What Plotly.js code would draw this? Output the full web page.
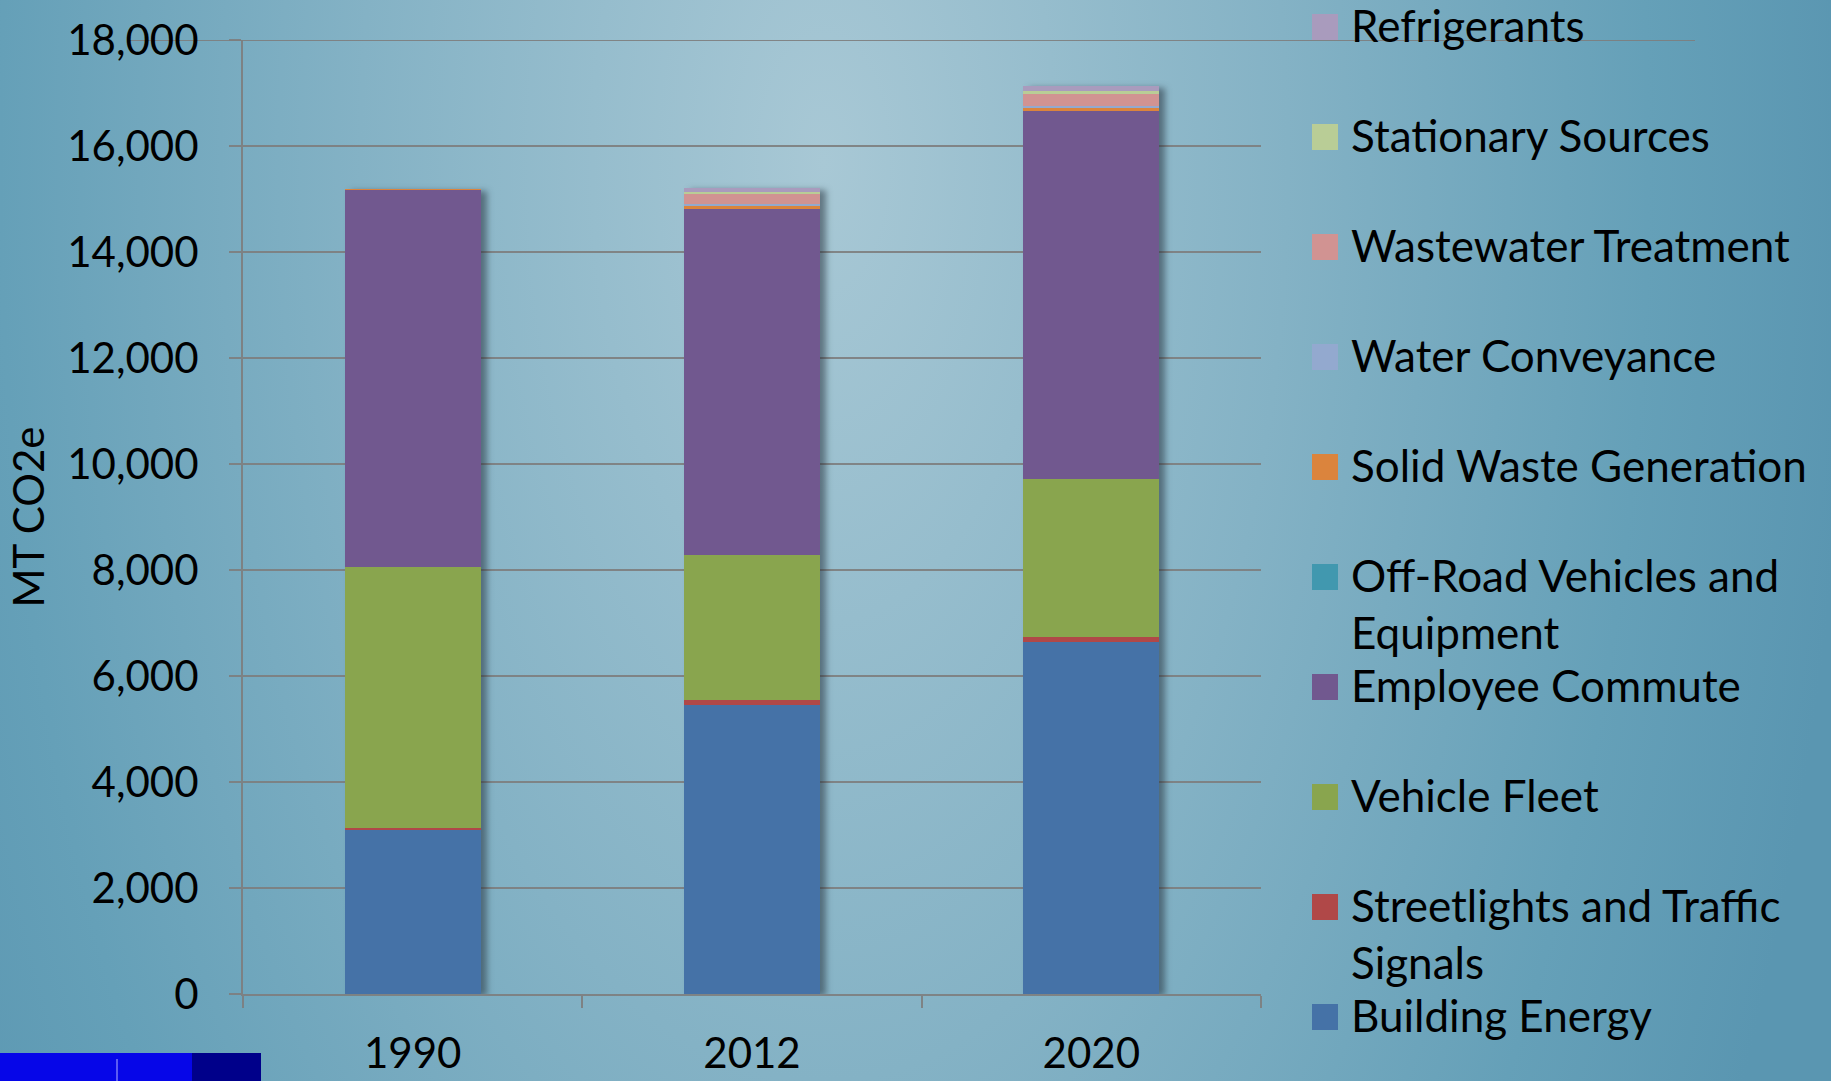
<!DOCTYPE html>
<html>
<head>
<meta charset="utf-8">
<script src="https://cdn.plot.ly/plotly-3.0.1.min.js"></script>
<style>
  html, body { margin: 0; padding: 0; width: 1831px; height: 1081px; overflow: hidden; }
  body {
    background: radial-gradient(ellipse 1030px 2042px at 824px 162px, #a8c8d5 0%, #84b2c5 45%, #65a0b8 80%, #5a96b1 100%);
  }
  #chart { width: 1831px; height: 1081px; }
  .barlayer { filter: drop-shadow(6px 2px 3px rgba(30, 40, 50, 0.5)); }
</style>
</head>
<body>
<div id="chart"></div>
<script>
// ---- data ----
const years = ["1990", "2012", "2020"];

const buildingEnergy       = [3100, 5450, 6640];
const streetlightsTraffic  = [40, 95, 100];
const vehicleFleet         = [4910, 2740, 2975];
const employeeCommute      = [7115, 6530, 6950];
const offRoadVehicles      = [0, 0, 0];
const solidWaste           = [25, 55, 55];
const waterConveyance      = [0, 30, 38];
const wastewaterTreatment  = [0, 190, 220];
const stationarySources    = [0, 50, 57];
const refrigerants         = [0, 75, 95];

const seriesNames = [
  "Building Energy",
  "Streetlights and Traffic<br>Signals",
  "Vehicle Fleet",
  "Employee Commute",
  "Off-Road Vehicles and<br>Equipment",
  "Solid Waste Generation",
  "Water Conveyance",
  "Wastewater Treatment",
  "Stationary Sources",
  "Refrigerants"
];
const seriesValues = [
  buildingEnergy, streetlightsTraffic, vehicleFleet, employeeCommute, offRoadVehicles,
  solidWaste, waterConveyance, wastewaterTreatment, stationarySources, refrigerants
];
const seriesColors = [
  "#4572a7", "#b04848", "#89a54e", "#71588f", "#4198af",
  "#db843d", "#93a9cf", "#d19392", "#b9cd96", "#a99bbd"
];

const yTickVals = [0, 2000, 4000, 6000, 8000, 10000, 12000, 14000, 16000, 18000];
const yTickText = ["0", "2,000", "4,000", "6,000", "8,000", "10,000", "12,000", "14,000", "16,000", "18,000"];

// ---- traces ----
const traces = seriesNames.map((name, i) => ({
  type: "bar",
  x: years,
  y: seriesValues[i],
  name: name,
  showlegend: false,
  marker: { color: seriesColors[i], line: { width: 0 } },
  hoverinfo: "skip"
}));

const FONT = "Lato, 'Noto Sans', sans-serif";
const gridCol = "rgba(125,125,125,0.9)";

// ---- figure geometry (pixels) used for the hand-placed legend ----
const W = 1831, H = 1081;
const M = { l: 243, r: 570, t: 40, b: 87 };
const plotW = W - M.l - M.r, plotH = H - M.t - M.b;
const px2paperX = px => (px - M.l) / plotW;
const px2paperY = py => (H - M.b - py) / plotH;

// legend: top entry = last series
const legTop = 27, legStep = 110, swL = 1312, swR = 1338, txtX = 1349, sw = 26, lineH = 58;
const shapes = [];
const annotations = [];
seriesNames.forEach((name, i) => {
  const k = seriesNames.length - 1 - i;
  const cy = legTop + k * legStep;
  shapes.push({
    type: "rect", xref: "paper", yref: "paper",
    x0: px2paperX(swL), x1: px2paperX(swR),
    y0: px2paperY(cy - sw / 2), y1: px2paperY(cy + sw / 2),
    fillcolor: seriesColors[i], line: { width: 0 }
  });
  annotations.push({
    xref: "paper", yref: "paper",
    x: px2paperX(txtX), y: px2paperY(cy - lineH / 2 - 1),
    xanchor: "left", yanchor: "top", align: "left",
    showarrow: false, text: name,
    font: { family: FONT, size: 44, color: "#000" }
  });
});

// decorative extras from the reference
shapes.push(
  { type: "line", xref: "paper", yref: "y", x0: px2paperX(130), x1: px2paperX(1695), y0: 18000, y1: 18000,
    line: { color: gridCol, width: 2 }, layer: "below" },
  { type: "rect", xref: "paper", yref: "paper", x0: px2paperX(0), x1: px2paperX(192), y0: px2paperY(1053), y1: px2paperY(1090),
    fillcolor: "#0606e8", line: { width: 0 } },
  { type: "rect", xref: "paper", yref: "paper", x0: px2paperX(192), x1: px2paperX(261), y0: px2paperY(1053), y1: px2paperY(1090),
    fillcolor: "#00008a", line: { width: 0 } },
  { type: "line", xref: "paper", yref: "paper", x0: px2paperX(117), x1: px2paperX(117), y0: px2paperY(1059), y1: px2paperY(1090),
    line: { color: "#b0b0ff", width: 1 } }
);

const layout = {
  width: W,
  height: H,
  autosize: false,
  paper_bgcolor: "rgba(0,0,0,0)",
  plot_bgcolor: "rgba(0,0,0,0)",
  barmode: "stack",
  bargap: 0.6,
  showlegend: false,
  margin: { l: M.l, r: M.r, t: M.t, b: M.b, autoexpand: false },
  font: { family: FONT, color: "#000000" },
  xaxis: {
    type: "category",
    showline: true,
    linecolor: gridCol,
    linewidth: 2,
    ticks: "outside",
    tickson: "boundaries",
    ticklen: 12,
    tickwidth: 2,
    tickcolor: gridCol,
    tickfont: { family: FONT, size: 42, color: "#000" },
    ticklabelstandoff: 22,
    showgrid: false,
    zeroline: false
  },
  yaxis: {
    range: [0, 18000],
    tickvals: yTickVals,
    ticktext: yTickText,
    showline: true,
    linecolor: gridCol,
    linewidth: 2,
    ticks: "outside",
    ticklen: 12,
    tickwidth: 2,
    tickcolor: gridCol,
    tickfont: { family: FONT, size: 42, color: "#000" },
    ticklabelstandoff: 22,
    showgrid: true,
    gridcolor: gridCol,
    gridwidth: 2,
    zeroline: false,
    title: { text: "MT CO2e", font: { family: FONT, size: 42, color: "#000" }, standoff: 10 }
  },
  shapes: shapes,
  annotations: annotations
};

Plotly.newPlot("chart", traces, layout, { staticPlot: true, displayModeBar: false });
</script>
</body>
</html>
